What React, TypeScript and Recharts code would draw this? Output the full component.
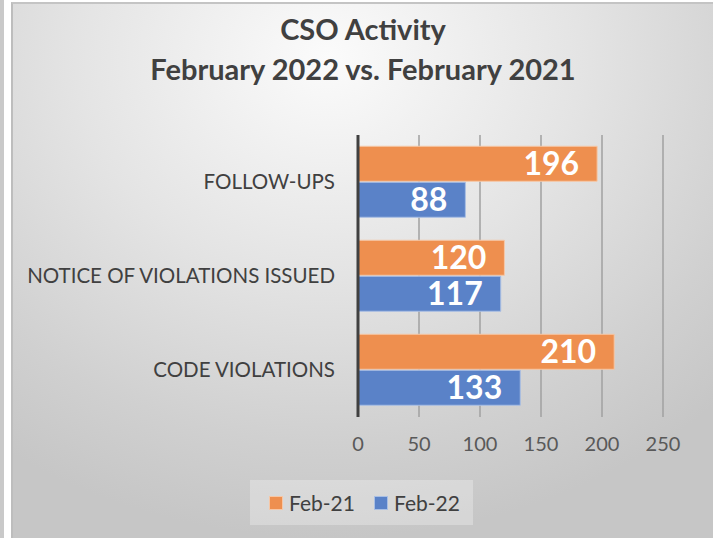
import React from 'react';
import { BarChart, Bar, XAxis, YAxis, CartesianGrid, LabelList } from 'recharts';

const categories = ['FOLLOW-UPS', 'NOTICE OF VIOLATIONS ISSUED', 'CODE VIOLATIONS'];
const feb21 = [196, 120, 210];
const feb22 = [88, 117, 133];
const xTicks = [0, 50, 100, 150, 200, 250];

const ORANGE = '#EE8F4F';
const BLUE = '#5A82C8';
const FONT = 'Lato, "Open Sans", sans-serif';

const data = categories.map((name, i) => ({ name, feb21: feb21[i], feb22: feb22[i] }));

const App = () => {
  return (
    <div style={{ position: 'absolute', left: 0, top: 0, width: 713, height: 538, background: '#fff', overflow: 'hidden', fontFamily: FONT }}>
      <div style={{ position: 'absolute', left: 0, top: 0, width: 4, height: 538, background: '#c9c9c9' }} />
      <div
        style={{
          position: 'absolute',
          left: 11,
          top: 2,
          width: 702,
          height: 536,
          boxSizing: 'border-box',
          borderLeft: '2px solid #bdbdbd',
          borderTop: '2px solid #c4c4c4',
          background: 'radial-gradient(ellipse 80% 90% at 45% 10%, #fbfbfb 0%, #e4e4e4 45%, #d0d0d0 80%, #c6c6c6 100%)',
        }}
      />
      <div style={{ position: 'absolute', left: 0, top: 9, width: 726, textAlign: 'center', fontWeight: 700, fontSize: 29, color: '#404040', lineHeight: '40px' }}>
        CSO Activity
        <br />
        February 2022 vs. February 2021
      </div>
      <div style={{ position: 'absolute', left: 0, top: 0 }}>
        <BarChart
          width={713}
          height={538}
          data={data}
          layout="vertical"
          margin={{ top: 135, right: 50, bottom: 91, left: 0 }}
          barCategoryGap="12%"
          barGap={1}
        >
          <CartesianGrid horizontal={false} stroke="#a0a0a0" strokeWidth={1.5} />
          <XAxis
            type="number"
            domain={[0, 250]}
            ticks={xTicks}
            axisLine={false}
            tickLine={false}
            tick={{ fontSize: 20, fill: '#595959', fontFamily: FONT }}
            tickMargin={14}
            height={30}
          />
          <YAxis
            type="category"
            dataKey="name"
            width={358}
            axisLine={{ stroke: '#404040', strokeWidth: 3 }}
            tickLine={false}
            tick={{ fontSize: 20.5, fill: '#404040', fontFamily: FONT }}
            tickMargin={17}
          />
          <Bar dataKey="feb21" name="Feb-21" fill={ORANGE} stroke="#f6c7a6" strokeWidth={1} isAnimationActive={false}>
            <LabelList dataKey="feb21" position="insideRight" offset={18} fill="#fff" fontSize={32} fontWeight={700} fontFamily={FONT} />
          </Bar>
          <Bar dataKey="feb22" name="Feb-22" fill={BLUE} stroke="#a9bfe4" strokeWidth={1} isAnimationActive={false}>
            <LabelList dataKey="feb22" position="insideRight" offset={18} fill="#fff" fontSize={32} fontWeight={700} fontFamily={FONT} />
          </Bar>
        </BarChart>
      </div>
      <div
        style={{
          position: 'absolute',
          left: 250,
          top: 480,
          width: 223,
          height: 45,
          background: 'rgba(255,255,255,0.28)',
          display: 'flex',
          alignItems: 'center',
          fontSize: 21,
          color: '#404040',
        }}
      >
        <span style={{ display: 'inline-block', width: 12, height: 12, background: ORANGE, border: '1px solid #f6c7a6', marginLeft: 19 }} />
        <span style={{ marginLeft: 6 }}>Feb-21</span>
        <span style={{ display: 'inline-block', width: 12, height: 12, background: BLUE, border: '1px solid #a9bfe4', marginLeft: 19 }} />
        <span style={{ marginLeft: 6 }}>Feb-22</span>
      </div>
    </div>
  );
};

export default App;
